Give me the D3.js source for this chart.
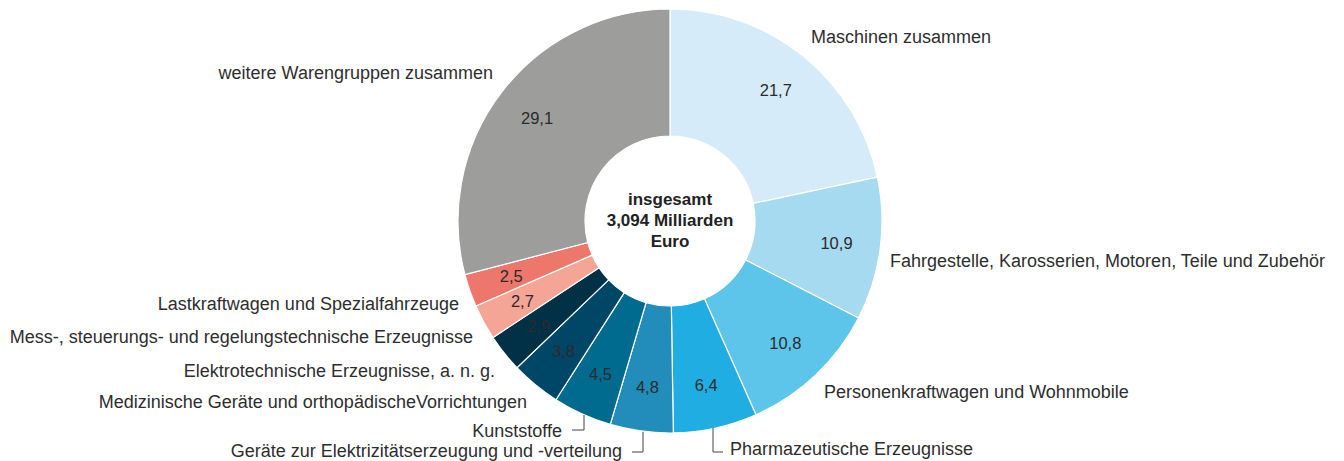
<!DOCTYPE html>
<html>
<head>
<meta charset="utf-8">
<script src="https://cdn.jsdelivr.net/npm/d3@7"></script>
<style>
  body { margin: 0; background: #fff; }
  text { font-family: "Liberation Sans", Arial, sans-serif; }
</style>
</head>
<body>
<script>
const categories = [
  "Maschinen zusammen",
  "Fahrgestelle, Karosserien, Motoren, Teile und Zubehör",
  "Personenkraftwagen und Wohnmobile",
  "Pharmazeutische Erzeugnisse",
  "Geräte zur Elektrizitätserzeugung und -verteilung",
  "Kunststoffe",
  "Medizinische Geräte und orthopädischeVorrichtungen",
  "Elektrotechnische Erzeugnisse, a. n. g.",
  "Mess-, steuerungs- und regelungstechnische Erzeugnisse",
  "Lastkraftwagen und Spezialfahrzeuge",
  "weitere Warengruppen zusammen"
];
const shares = [21.7, 10.9, 10.8, 6.4, 4.8, 4.5, 3.8, 2.9, 2.7, 2.5, 29.1];
const colors = ["#d5ebfa", "#a5daf0", "#5ec5ea", "#20ade2", "#228dba", "#006b8f",
                "#004666", "#003146", "#f4a596", "#ee776b", "#9d9d9c"];
const centerLines = ["insgesamt", "3,094 Milliarden", "Euro"];

const width = 1344, height = 461;
const cx = 670, cy = 221;
const outerR = 212, innerR = 85;

const svg = d3.select('body')
  .append('svg')
  .attr('width', width)
  .attr('height', height);

const data = categories.map((c, i) => ({ name: c, value: shares[i], color: colors[i] }));

const pie = d3.pie().value(d => d.value).sort(null);
const arc = d3.arc().innerRadius(innerR).outerRadius(outerR);
const labelArc = d3.arc().innerRadius(168).outerRadius(168);

const g = svg.append('g').attr('transform', `translate(${cx},${cy})`);
const arcs = pie(data);

g.selectAll('path.slice')
  .data(arcs)
  .enter()
  .append('path')
  .attr('class', 'slice')
  .attr('d', arc)
  .attr('fill', d => d.data.color)
  .attr('stroke', '#fff')
  .attr('stroke-width', 1.2);

const fmt = v => d3.format('.1f')(v).replace('.', ',');

g.selectAll('text.value')
  .data(arcs)
  .enter()
  .append('text')
  .attr('class', 'value')
  .attr('transform', d => `translate(${labelArc.centroid(d)})`)
  .attr('text-anchor', 'middle')
  .attr('dy', '0.35em')
  .attr('fill', '#2b2b2b')
  .style('font-size', '16.5px')
  .text(d => fmt(d.data.value));

// center text
g.append('text')
  .attr('text-anchor', 'middle')
  .attr('fill', '#222')
  .style('font-size', '17px')
  .style('font-weight', 'bold')
  .selectAll('tspan')
  .data(centerLines)
  .enter()
  .append('tspan')
  .attr('x', 0)
  .attr('y', (d, i) => -16 + i * 21)
  .text(d => d);

// category labels: offset from the centre, anchor, optional leader
const labelLayout = [
  { x: 141, y: -184, anchor: 'start' },
  { x: 220, y: 40, anchor: 'start' },
  { x: 154, y: 171, anchor: 'start' },
  { x: 60, y: 228, anchor: 'start', leader: [[43, 207], [43, 231], [53, 231]] },
  { x: -48, y: 230, anchor: 'end', leader: [[-27, 211], [-27, 231], [-38, 231]] },
  { x: -108, y: 210, anchor: 'end', leader: [[-86, 194], [-86, 209], [-98, 209]] },
  { x: -143, y: 181, anchor: 'end' },
  { x: -175, y: 150, anchor: 'end' },
  { x: -197, y: 116, anchor: 'end' },
  { x: -211, y: 83, anchor: 'end' },
  { x: -177, y: -148, anchor: 'end' }
];

const labels = g.selectAll('g.label')
  .data(arcs)
  .enter()
  .append('g')
  .attr('class', 'label');

labels.append('text')
  .attr('x', d => labelLayout[d.index].x)
  .attr('y', d => labelLayout[d.index].y)
  .attr('dy', '0.35em')
  .attr('text-anchor', d => labelLayout[d.index].anchor)
  .attr('fill', '#2e2e2e')
  .style('font-size', '18px')
  .text(d => d.data.name);

labels.filter(d => labelLayout[d.index].leader)
  .append('path')
  .attr('d', d => d3.line()(labelLayout[d.index].leader))
  .attr('fill', 'none')
  .attr('stroke', '#444')
  .attr('stroke-width', 1);
</script>
</body>
</html>
